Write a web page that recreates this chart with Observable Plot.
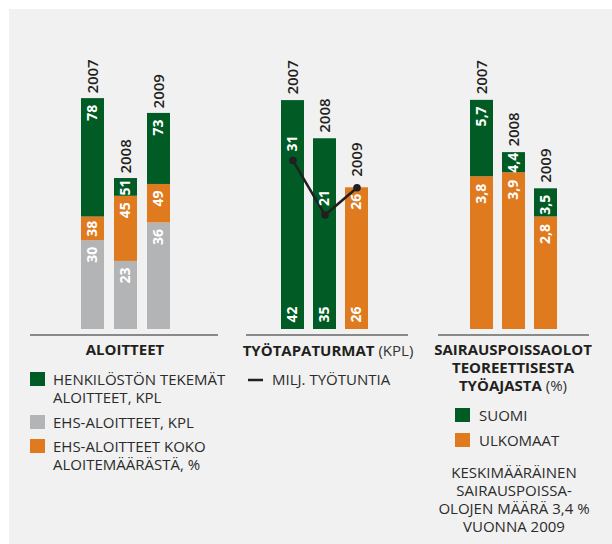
<!DOCTYPE html>
<html><head><meta charset="utf-8">
<script src="https://cdn.jsdelivr.net/npm/d3@7"></script>
<script src="https://cdn.jsdelivr.net/npm/@observablehq/plot@0.6"></script>
<style>
html,body{margin:0;padding:0;background:#fff;}
#chart{position:relative;width:612px;height:544px;overflow:hidden;font-family:"Open Sans",sans-serif;}
#bg{position:absolute;left:9px;top:9px;right:0;bottom:0;background:#f1f1f1;}
#chart svg{position:absolute;left:0;top:0;}
</style></head><body><div id="chart"><div id="bg"></div></div>
<script>
// ---- data ----
const years = ["2007", "2008", "2009"];
// ALOITTEET
const henkilostonAloitteet = [78, 51, 73];   // kpl
const ehsAloitteet = [30, 23, 36];           // kpl
const ehsOsuus = [38, 45, 49];               // % koko aloitemäärästä
// TYÖTAPATURMAT
const tyotapaturmat = [42, 35, 26];          // kpl
const tapaturmaSarja = ["A", "A", "B"];      // bar colour group
const miljTyotuntia = [31, 21, 26];
// SAIRAUSPOISSAOLOT
const suomi = [5.7, 4.4, 3.5];
const ulkomaat = [3.8, 3.9, 2.8];

const GREEN = "#005b24", ORANGE = "#e07a1f", GRAY = "#b3b4b5", DARK = "#231f20";
const fmtComma = v => v.toFixed(1).replace(".", ",");

const chart = document.getElementById("chart");
const common = {width: 612, height: 544, margin: 0,
  style: {background: "transparent", fontFamily: "Open Sans", overflow: "visible"}};
const VAL = {rotate: -90, fill: "white", fontSize: 14, fontWeight: 700};
const yearLabel = (data, y, dy = -6) => Plot.text(data, {x: "year", y, text: "year", rotate: -90,
  textAnchor: "start", dy, fill: DARK, fontSize: 15, fontWeight: 600});
// label for a segment [lo, hi]: at its top, or centred when the segment is short
const segLabel = (data, lo, hi, text, pxPerUnit, dy = 6) => {
  const small = d => (hi(d) - lo(d)) * pxPerUnit < 26;
  return [
    Plot.text(data.filter(d => !small(d)), {x: "year", y: hi, text, textAnchor: "end", dy, ...VAL}),
    Plot.text(data.filter(small), {x: "year", y: d => (lo(d) + hi(d)) / 2, text, textAnchor: "middle", ...VAL})
  ];
};

// ---- panel 1 ----
const d1 = years.map((year, i) => ({year, total: henkilostonAloitteet[i], ehs: ehsAloitteet[i], pct: ehsOsuus[i]}));
const k1 = 296 / 100;
chart.append(Plot.plot({...common,
  x: {type: "band", domain: years, range: [81, 170], paddingInner: 10 / 33, paddingOuter: 0, axis: null},
  y: {domain: [0, 100], range: [329, 329 - 296], axis: null},
  marks: [
    Plot.barY(d1, {x: "year", y1: 0, y2: "ehs", fill: GRAY}),
    Plot.barY(d1, {x: "year", y1: "ehs", y2: "pct", fill: ORANGE}),
    Plot.barY(d1, {x: "year", y1: "pct", y2: "total", fill: GREEN}),
    yearLabel(d1, "total", -5),
    segLabel(d1, d => d.pct, d => d.total, d => String(d.total), k1),
    segLabel(d1, d => d.ehs, d => d.pct, d => String(d.pct), k1),
    segLabel(d1, d => 0, d => d.ehs, d => String(d.ehs), k1)
  ]}));

// ---- panel 2 ----
const d2 = years.map((year, i) => ({year, n: tyotapaturmat[i], g: tapaturmaSarja[i], m: miljTyotuntia[i],
  atTop: miljTyotuntia[i] === tyotapaturmat[i]}));
chart.append(Plot.plot({...common,
  x: {type: "band", domain: years, range: [281, 368], paddingInner: 9 / 32, paddingOuter: 0, axis: null},
  y: {domain: [0, 50], range: [329, 329 - 272.5], axis: null},
  color: {domain: ["A", "B"], range: [GREEN, ORANGE]},
  marks: [
    Plot.barY(d2, {x: "year", y1: 0, y2: "n", fill: "g"}),
    Plot.text(d2, {x: "year", y: 0, text: d => String(d.n), textAnchor: "start", dy: -7, ...VAL}),
    Plot.line(d2, {x: "year", y: "m", stroke: DARK, strokeWidth: 2.5}),
    Plot.dot(d2, {x: "year", y: "m", r: 3.8, fill: DARK}),
    Plot.text(d2.filter(d => !d.atTop), {x: "year", y: "m", text: d => String(d.m), textAnchor: "start", dy: -9, ...VAL}),
    Plot.text(d2.filter(d => d.atTop), {x: "year", y: "m", text: d => String(d.m), textAnchor: "end", dy: 6, ...VAL}),
    yearLabel(d2.filter(d => !d.atTop), "n", -6),
    yearLabel(d2.filter(d => d.atTop), "n", -11)
  ]}));

// ---- panel 3 ----
const d3d = years.map((year, i) => ({year, s: suomi[i], u: ulkomaat[i]}));
const k3 = 241.2 / 6;
chart.append(Plot.plot({...common,
  x: {type: "band", domain: years, range: [469, 557], paddingInner: 9.5 / 32.5, paddingOuter: 0, axis: null},
  y: {domain: [0, 6], range: [329, 329 - 241.2], axis: null},
  marks: [
    Plot.barY(d3d, {x: "year", y1: 0, y2: "u", fill: ORANGE}),
    Plot.barY(d3d, {x: "year", y1: "u", y2: "s", fill: GREEN}),
    yearLabel(d3d, "s", -6),
    segLabel(d3d, d => d.u, d => d.s, d => fmtComma(d.s), k3, 6),
    segLabel(d3d, d => 0, d => d.u, d => fmtComma(d.u), k3, 7)
  ]}));

// ---- legends / titles ----
const svg = d3.select(chart).append("svg").attr("width", 612).attr("height", 544)
  .style("font-family", "Open Sans").style("font-size", "15px");
const rule = (x1, x2) => svg.append("line").attr("x1", x1).attr("x2", x2).attr("y1", 335).attr("y2", 335)
  .attr("stroke", "#666").attr("stroke-width", 1.6);
const txt = (x, y, s, anchor = "start", weight = 400) => svg.append("text").attr("x", x).attr("y", y)
  .attr("text-anchor", anchor).attr("font-weight", weight).attr("fill", "#2b2b2b").text(s);
const title = (x, y, bold, rest) => {
  const t = svg.append("text").attr("x", x).attr("y", y).attr("text-anchor", "middle").attr("fill", DARK);
  t.append("tspan").attr("font-weight", 700).text(bold);
  if (rest) t.append("tspan").attr("font-weight", 400).attr("fill", "#333").text(rest);
};
const swatch = (x, y, c) => svg.append("rect").attr("x", x).attr("y", y).attr("width", 15).attr("height", 14).attr("fill", c);

rule(30, 218);
title(125, 355, "ALOITTEET");
swatch(30, 372, GREEN); txt(53, 385, "HENKILÖSTÖN TEKEMÄT"); txt(53, 403, "ALOITTEET, KPL");
swatch(30, 415, GRAY); txt(53, 428, "EHS-ALOITTEET, KPL");
swatch(30, 439, ORANGE); txt(53, 452, "EHS-ALOITTEET KOKO"); txt(53, 470, "ALOITEMÄÄRÄSTÄ, %");

rule(246, 408);
title(328, 356, "TYÖTAPATURMAT", " (KPL)");
svg.append("line").attr("x1", 248).attr("x2", 263).attr("y1", 380).attr("y2", 380).attr("stroke", DARK).attr("stroke-width", 2.5);
txt(272, 385, "MILJ. TYÖTUNTIA");

rule(438, 589);
title(513, 355, "SAIRAUSPOISSAOLOT");
title(513, 373, "TEOREETTISESTA");
title(513, 391, "TYÖAJASTA", " (%)");
swatch(455, 408, GREEN); txt(479, 421, "SUOMI");
swatch(455, 433, ORANGE); txt(479, 446, "ULKOMAAT");
txt(514, 478, "KESKIMÄÄRÄINEN", "middle");
txt(514, 496, "SAIRAUSPOISSA-", "middle");
txt(514, 514, "OLOJEN MÄÄRÄ 3,4 %", "middle");
txt(514, 532, "VUONNA 2009", "middle");
</script></body></html>
